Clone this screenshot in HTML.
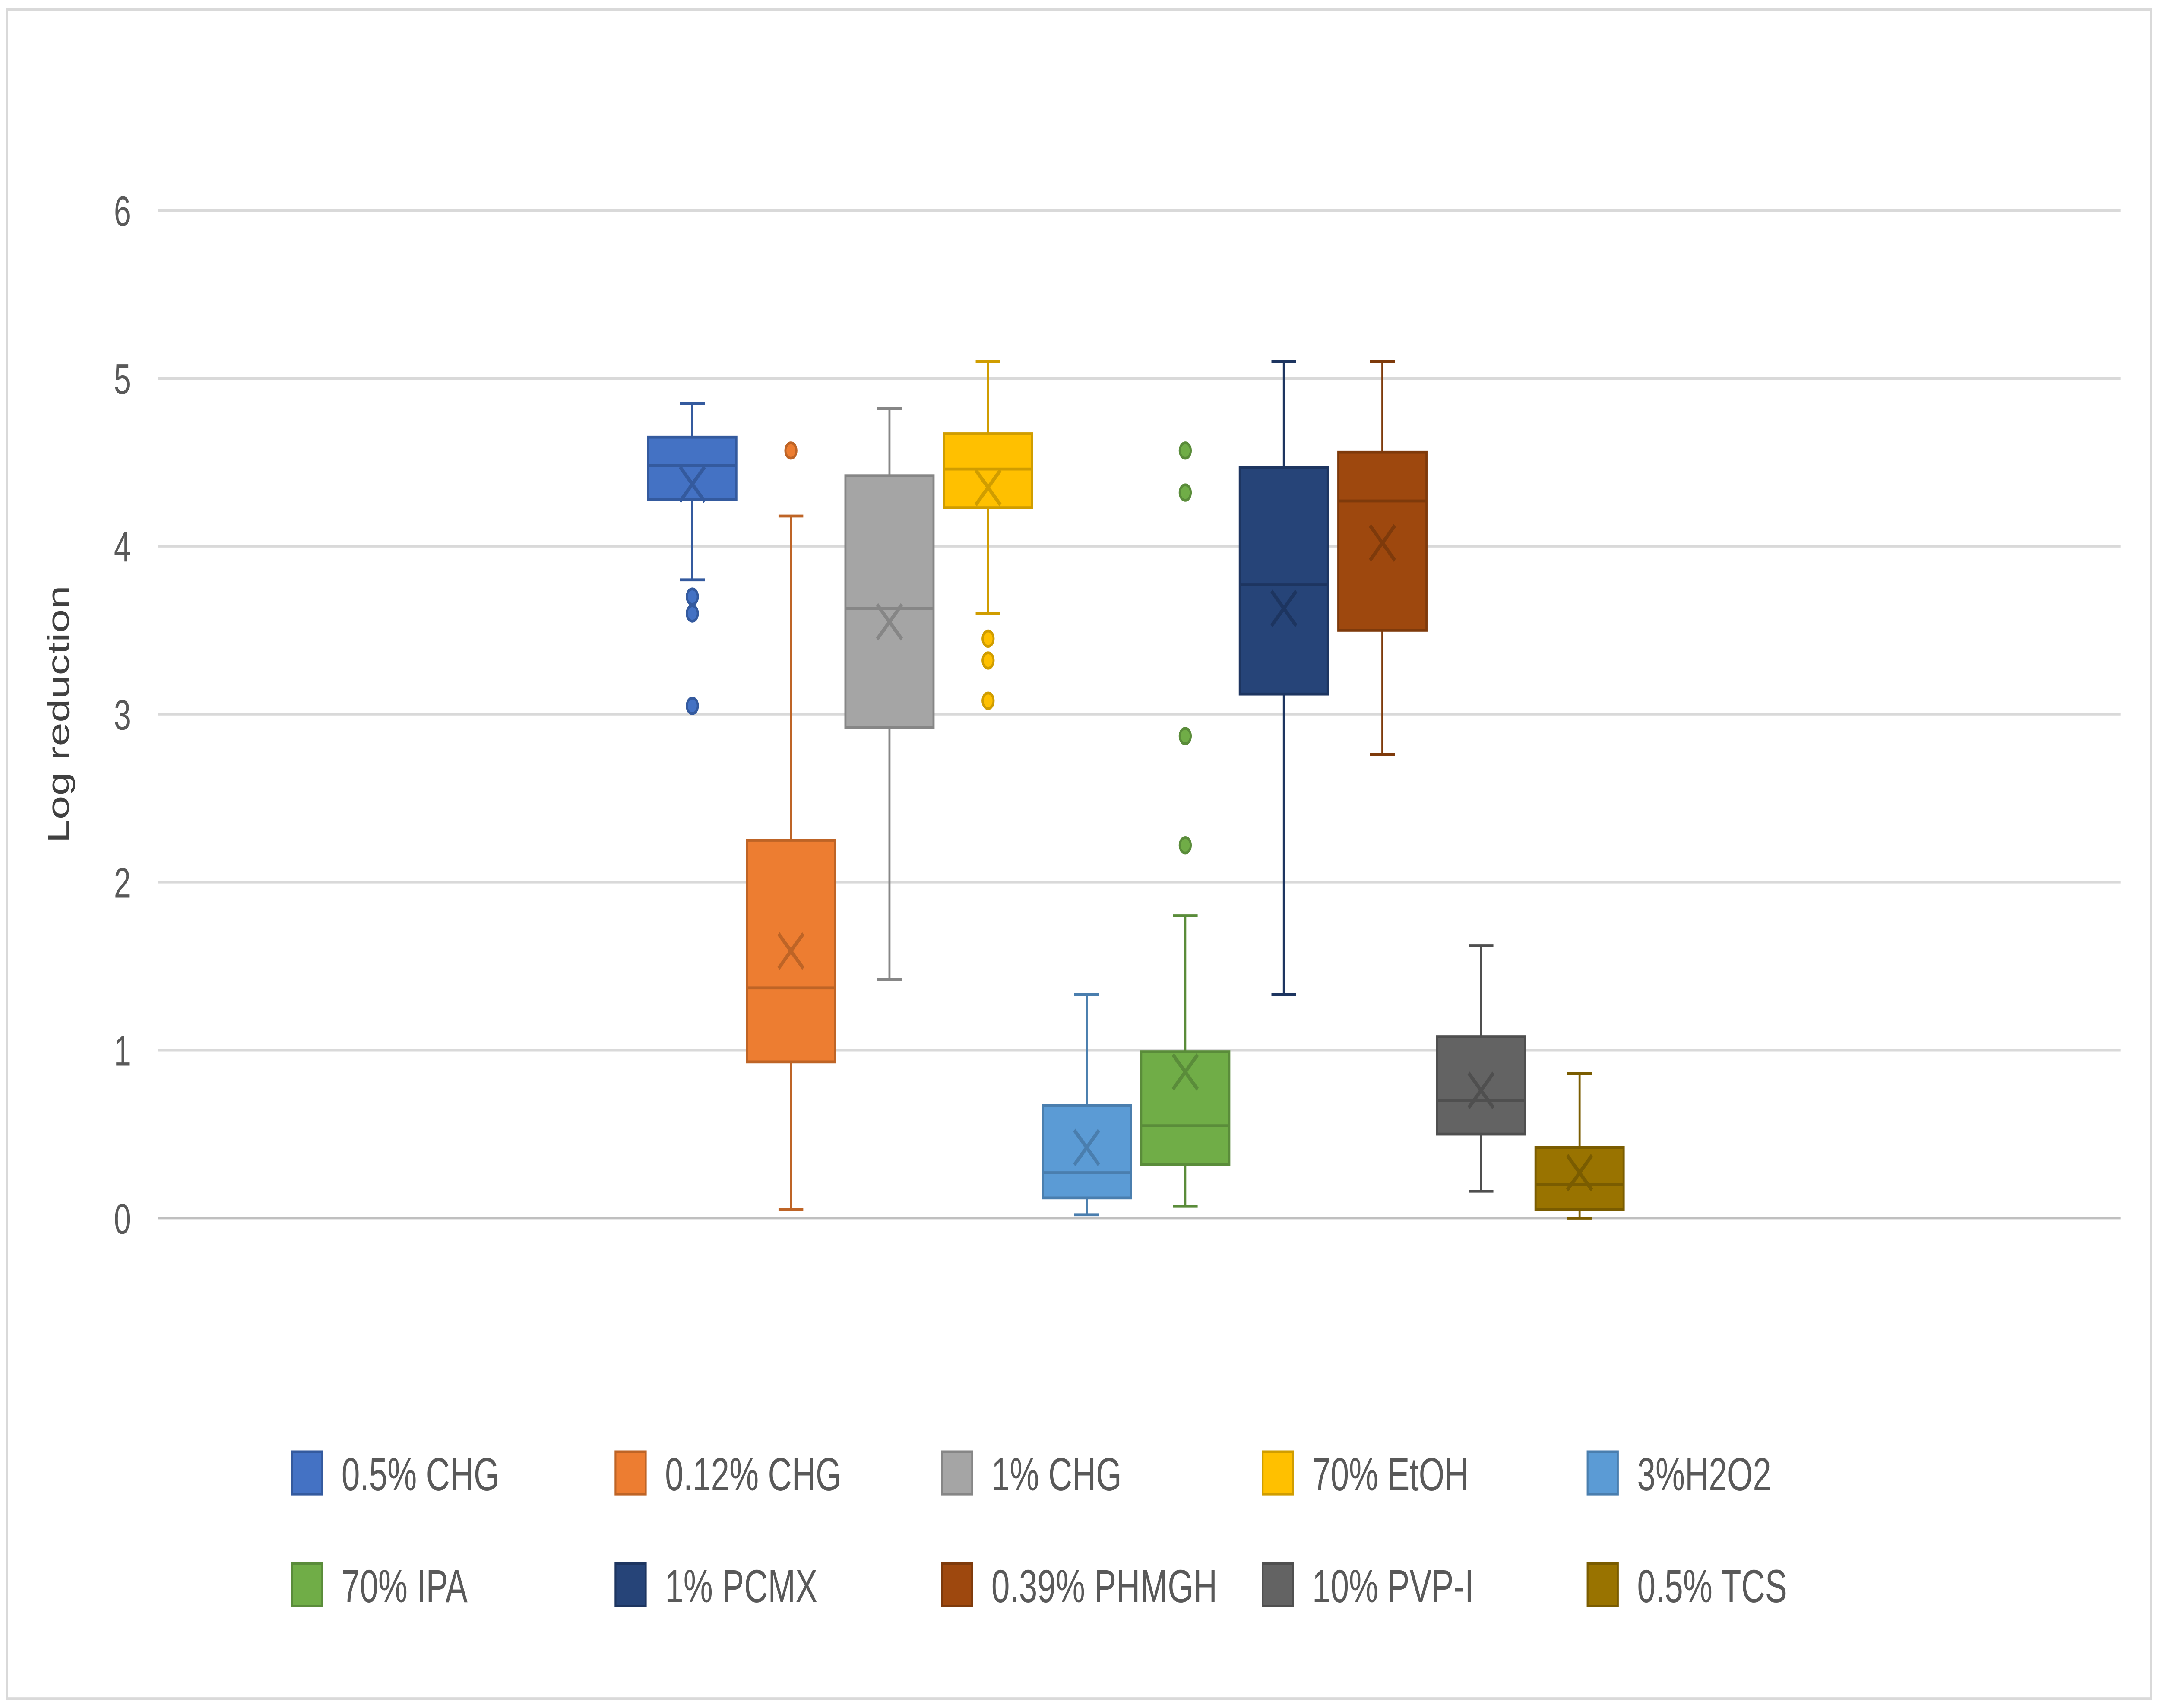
<!DOCTYPE html>
<html><head><meta charset="utf-8"><style>
html,body{margin:0;padding:0;background:#fff;width:100vw;height:100vh;overflow:hidden}
svg{display:block;position:absolute;left:0;top:0;width:100vw;height:100vh}
text{font-family:"Liberation Sans",sans-serif}
</style></head><body>
<svg id="chart" viewBox="0 0 1568 884.8" preserveAspectRatio="none" xmlns="http://www.w3.org/2000/svg">
<rect x="5" y="5" width="1557" height="875" fill="#fff" stroke="#d9d9d9" stroke-width="1.5"/>
<g id="grid"></g><g id="boxes"></g><g id="legend"></g>
<text transform="translate(50,370) rotate(-90)" text-anchor="middle" font-size="22" fill="#404040">Log reduction</text>
</svg>
<script>
const series=["0.5% CHG","0.12% CHG","1% CHG","70% EtOH","3%H2O2","70% IPA","1% PCMX","0.39% PHMGH","10% PVP-I","0.5% TCS"];
const mins=[3.8,0.05,1.42,3.6,0.02,0.07,1.33,2.76,0.16,0.0];
const q1s=[4.28,0.93,2.92,4.23,0.12,0.32,3.12,3.5,0.5,0.05];
const medians=[4.48,1.37,3.63,4.46,0.27,0.55,3.77,4.27,0.7,0.2];
const q3s=[4.65,2.25,4.42,4.67,0.67,0.99,4.47,4.56,1.08,0.42];
const maxs=[4.85,4.18,4.82,5.1,1.33,1.8,5.1,5.1,1.62,0.86];
const means=[4.37,1.59,3.55,4.35,0.42,0.87,3.63,4.02,0.76,0.27];
const outliers=[[3.7,3.6,3.05],[4.57],[],[3.45,3.32,3.08],[],[4.57,4.32,2.87,2.22],[],[],[],[]];
const yTicks=[0,1,2,3,4,5,6];
const fills=["#4472C4","#ED7D31","#A5A5A5","#FFC000","#5B9BD5","#70AD47","#264478","#9E480E","#636363","#997300"];
const strokes=["#345A9E","#BE6426","#868686","#D09D00","#4A7EAE","#5A8C3A","#1D3560","#7E3A0B","#4F4F4F","#7A5C00"];
const NS="http://www.w3.org/2000/svg";
const X0=115,X1=1540,Y0=631,Y6=109;
const y=v=>Y0-(v/6)*(Y0-Y6);
const cx=i=>825+(i-(series.length-1)/2)*71.6;
function mk(p,tag,at){const e=document.createElementNS(NS,tag);for(const k in at)e.setAttribute(k,at[k]);p.appendChild(e);return e;}
const grid=document.getElementById('grid');
yTicks.forEach(t=>{
  const l=mk(grid,'line',{x1:X0,x2:X1,y1:y(t),y2:y(t),stroke:t===0?'#bfbfbf':'#d9d9d9','stroke-width':1.3});
  
  
  const tx=mk(grid,'text',{x:95,y:y(t)+8,'text-anchor':'end','font-size':22,fill:'#595959'});
  tx.textContent=t;
  
  
});
const bx=document.getElementById('boxes');
const W=64;
series.forEach((s,i)=>{
  const c=cx(i),f=fills[i],st=strokes[i];
  const g=mk(bx,'g',{});
  
  
  mk(g,'line',{x1:c,x2:c,y1:y(maxs[i]),y2:y(q3s[i]),stroke:st,'stroke-width':1.5});
  mk(g,'line',{x1:c,x2:c,y1:y(q1s[i]),y2:y(mins[i]),stroke:st,'stroke-width':1.5});
  mk(g,'line',{x1:c-9,x2:c+9,y1:y(maxs[i]),y2:y(maxs[i]),stroke:st,'stroke-width':1.5});
  mk(g,'line',{x1:c-9,x2:c+9,y1:y(mins[i]),y2:y(mins[i]),stroke:st,'stroke-width':1.5});
  mk(g,'rect',{x:c-W/2,y:y(q3s[i]),width:W,height:y(q1s[i])-y(q3s[i]),fill:f,stroke:st,'stroke-width':1.5});
  mk(g,'line',{x1:c-W/2,x2:c+W/2,y1:y(medians[i]),y2:y(medians[i]),stroke:st,'stroke-width':1.5});
  const m=y(means[i]);
  mk(g,'path',{d:`M${c-9} ${m-9}L${c+9} ${m+9}M${c+9} ${m-9}L${c-9} ${m+9}`,stroke:st,'stroke-width':2.2,fill:'none'});
  outliers[i].forEach(o=>{
    const d=mk(g,'circle',{cx:c,cy:y(o),r:4,fill:f,stroke:st,'stroke-width':1.5});
    
    
  });
});
const lg=document.getElementById('legend');
const lx=[212,447,684,917,1153],ly=[763,821];
series.forEach((s,i)=>{
  const x=lx[i%5],yy=ly[Math.floor(i/5)];
  const g=mk(lg,'g',{});
  
  
  mk(g,'rect',{x:x,y:yy-11,width:22,height:22,fill:fills[i],stroke:strokes[i],'stroke-width':1.3});
  const t=mk(g,'text',{x:x+36,y:yy+9,'font-size':24,fill:'#595959'});
  t.textContent=s;
});
</script>
</body></html>
